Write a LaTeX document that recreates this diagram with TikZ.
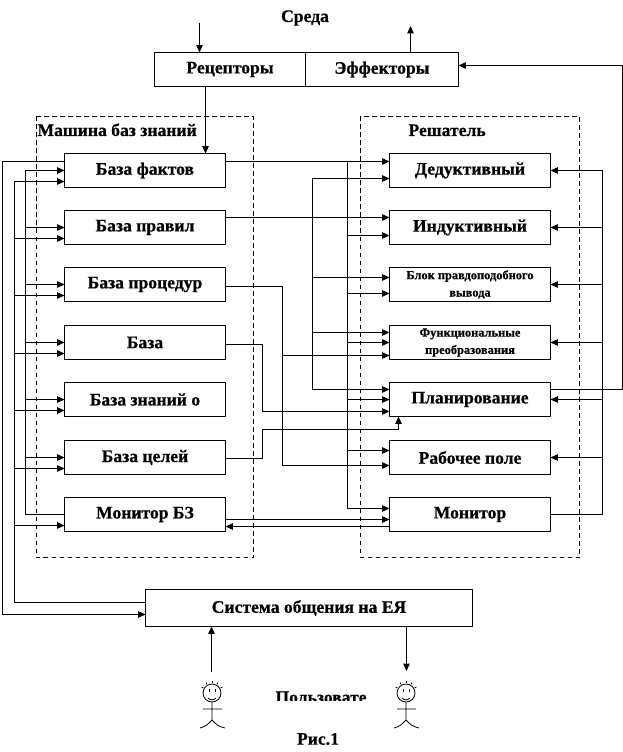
\documentclass[tikz,border=0pt]{standalone}
\usepackage{fontspec}
\setmainfont{Liberation Serif}[BoldFeatures={FakeBold=0.6}]
\usetikzlibrary{arrows.meta,calc}
\tikzset{
	kbox/.style={draw,line width=0.75pt,outer sep=0pt,minimum width=120.75pt,minimum height=25.5pt,inner sep=0pt,font=\bfseries\fontsize{13.2}{15}\selectfont},
	ksmall/.style={kbox,align=center,font=\bfseries\fontsize{9.3}{13}\selectfont},
	lbl/.style={inner sep=0pt,font=\bfseries\fontsize{13.2}{15}\selectfont},
	zone/.style={line width=0.75pt,dash pattern=on 3.6pt off 2.4pt}
}
\begin{document}
\begin{tikzpicture}[x=0.75pt,y=-0.75pt,line width=0.75pt,line join=round,>={Stealth[length=5.5pt,width=4.8pt,inset=0pt]}]
	\useasboundingbox (0,0) rectangle (623,752);
	\path
	(2.5,0) coordinate (LA)
	(14.5,0) coordinate (LB)
	(25.5,0) coordinate (LC)
	(262.5,0) coordinate (DD)
	(282.5,0) coordinate (DC)
	(312.5,0) coordinate (DB)
	(347.5,0) coordinate (DA)
	(602.5,0) coordinate (RA)
	(622,0) coordinate (RB);
	% zones
	\draw[zone] (36.5,116.5) rectangle (253.5,557.5);
	\draw[zone] (360.5,116.5) rectangle (579.5,557.5);
	\node[lbl,anchor=base west] (MBZ) at (37,136) {Машина баз знаний};
	\node[lbl,anchor=base west] (Sol) at (408,136) {Решатель};
	\node[lbl] (Env) at (305,18) {Среда};
	% boxes
	\foreach \name/\txt/\y in {Fact/База фактов/170.5,Rule/База правил/227.5,Proc/База процедур/284.5,Base/База/342.5,Know/База знаний о/399.5,Goal/База целей/457.5,MonB/Монитор БЗ/514.5}
	\node[kbox] (\name) at (145,\y) {\txt};
	\foreach \name/\txt/\y in {Ded/Дедуктивный/170.5,Ind/Индуктивный/227.5,Plan/Планирование/399.5,Work/Рабочее поле/457.5,Mon/Монитор/514.5}
	\node[kbox] (\name) at (470,\y) {\txt};
	\node[ksmall] (Plaus) at (470,284.5) {Блок правдоподобного\\вывода};
	\node[ksmall] (Func) at (470,342.5) {Функциональные\\преобразования};
	\node[kbox,minimum width=113.25pt,anchor=east] (Rec) at (305.5,69.5) {Рецепторы};
	\node[kbox,minimum width=114.75pt,anchor=west] (Eff) at (305.5,69.5) {Эффекторы};
	\node[kbox,minimum width=245.25pt,minimum height=27.75pt] (Sys) at (309,608) {Система общения на ЕЯ};
	% top
	\path (199.5,23) coordinate (In) (410.5,26) coordinate (Out) (205.5,0) coordinate (RecD);
	\draw[->] (In)--(In |- Rec.north);
	\draw[->] (Out |- Eff.north)--(Out);
	\draw[->] (RecD |- Rec.south)--(RecD |- Fact.north);
	% left buses
	\foreach \b in {Fact,Rule,Proc,Base,Know,Goal}
	\draw[->] (\b.west -| LC)--(\b.west);
	\foreach \b in {Fact,Rule,Proc,Base,Know,Goal,MonB}{
		\path ([yshift=-8.25pt]\b.west) coordinate (\b low);
		\draw[->] (\b low -| LB)--(\b low);
	}
	\path ([yshift=6.75pt]Fact.west) coordinate (FactL) ([yshift=4.125pt]Sys.west) coordinate (SysA) ([yshift=-4.875pt]Sys.west) coordinate (SysB);
	\draw (MonB.west)--(MonB.west -| LC)--(Fact.west -| LC);
	\draw (SysA)--(SysA -| LB)--(Factlow -| LB);
	\draw[->] (FactL)--(FactL -| LA)--(SysB -| LA)--(SysB);
	% inputs of the solver
	\foreach \b/\d/\c in {Ded/-9/DA,Ind/8/DA,Plaus/9/DA,Func/0/DA,Plan/0/DA,Work/-7/DA,Mon/-6/DA,Ded/8/DB,Ind/-10/DB,Plaus/-7/DB,Func/-10/DB,Plan/-10/DB,Func/13/DC,Work/8/DC,Plan/12/DD}{
		\path ([yshift={-0.75pt*(\d)}]\b.west) coordinate (\b\c);
		\draw[->] (\b\c -| \c)--(\b\c);
	}
	\draw (DedDA -| DA)--(MonDA -| DA);
	\draw (DedDB -| DB)--(PlanDB -| DB);
	\path
	([yshift=6.75pt]Fact.east) coordinate (FactR)
	([yshift=7.5pt]Rule.east) coordinate (RuleR)
	([yshift=-1.5pt]Proc.east) coordinate (ProcR)
	([yshift=-1.5pt]Base.east) coordinate (BaseR)
	([yshift=-0.75pt]Goal.east) coordinate (GoalR)
	([yshift=-3.75pt]MonB.east) coordinate (MonBA)
	([yshift=-9pt]MonB.east) coordinate (MonBB)
	(398.5,429.5) coordinate (GoalUp);
	\draw (FactR)--(FactR -| DA);
	\draw (RuleR)--(RuleR -| DB);
	\draw (ProcR)--(ProcR -| DC)--(WorkDC -| DC);
	\draw (BaseR)--(BaseR -| DD)--(PlanDD -| DD);
	\draw[->] (GoalR)--(GoalR -| DD)--(GoalUp -| DD)--(GoalUp)--(GoalUp |- Plan.south);
	\draw[->] (MonBA)--(MonBA -| Mon.west);
	\draw[->] (MonBB -| Mon.west)--(MonBB);
	% right buses
	\foreach \b in {Ded,Ind,Plaus,Func,Plan,Work}
	\draw[->] (\b.east -| RA)--(\b.east);
	\draw (Mon.east)--(Mon.east -| RA)--(Ded.east -| RA);
	\path ([yshift=7.5pt]Plan.east) coordinate (PlanR) ([yshift=3pt]Eff.east) coordinate (EffR);
	\draw[->] (PlanR)--(PlanR -| RB)--(EffR -| RB)--(EffR);
	% users
	\path (211.5,672) coordinate (UserA) (406.5,671) coordinate (UserB);
	\draw[->] (UserA)--(UserA |- Sys.south);
	\draw[->] (UserB |- Sys.south)--(UserB);
	\foreach \x in {212,406}{
		\begin{scope}[shift={(\x,0)},line width=0.6pt]
			\draw (0,693) circle (9);
			\draw (-9,709)--(10,709) (0,702)--(0,720) (-12,728) .. controls (-6,726) .. (0,720) .. controls (6,726) .. (13,728);
			\draw (-4,698) .. controls (-1,700.5) and (1,700.5) .. (4,698);
			\draw (-3,689)--(-3,692) (3,689)--(3,692);
			\foreach \a in {-60,-30,0,30,60}
			\draw ($(0,693)+(90+\a:-10)$) -- ($(0,693)+(90+\a:-12)$);
		\end{scope}
	}
	\begin{scope}
		\clip (270,688) rectangle (372,700.8);
		\node[lbl,anchor=base] (User) at (321,703) {Пользовате};
	\end{scope}
	\node[lbl] (Fig) at (318,739) {Рис.1};
\end{tikzpicture}
\end{document}
